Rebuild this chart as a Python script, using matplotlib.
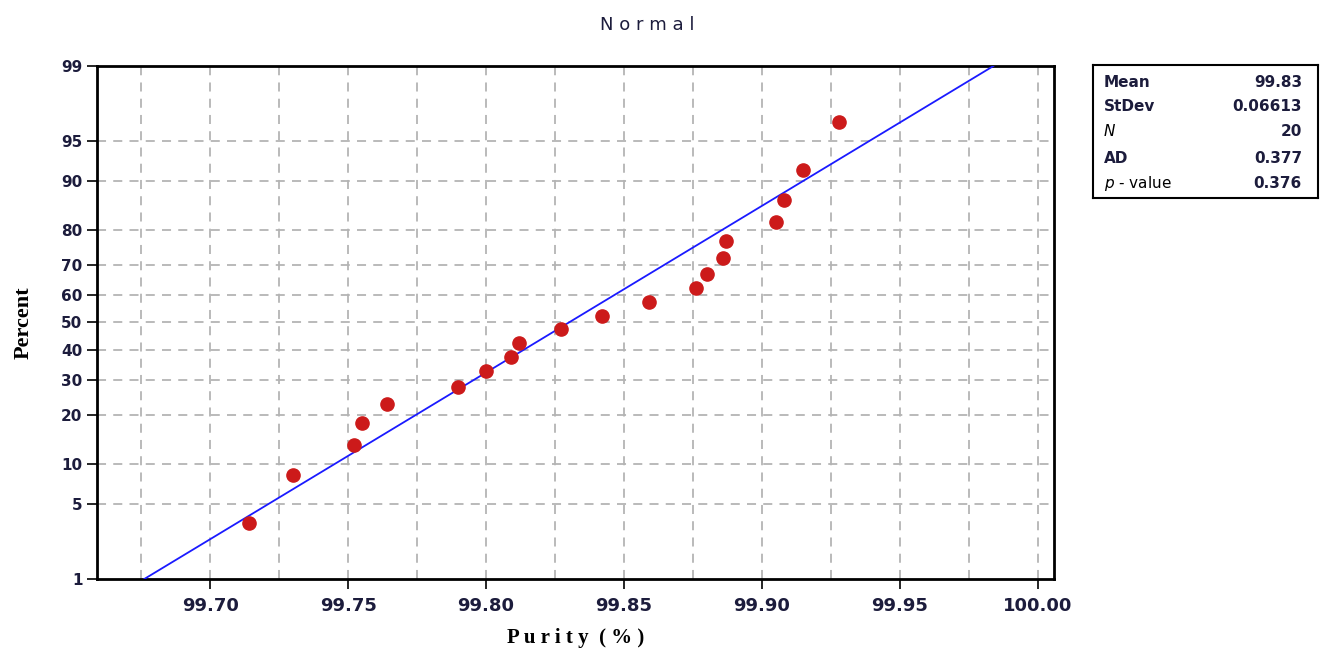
import numpy as np
import matplotlib
matplotlib.use("Agg")
import matplotlib.pyplot as plt
from statistics import NormalDist

# Data
purity = [99.714, 99.730, 99.752, 99.755, 99.764, 99.790, 99.800, 99.809, 99.812, 99.827,
          99.842, 99.859, 99.876, 99.880, 99.886, 99.887, 99.905, 99.908, 99.915, 99.928]
stat_labels = ["Mean", "StDev", "N", "AD", "p - value"]
stat_values = ["99.83", "0.06613", "20", "0.377", "0.376"]
mean_val = 99.83
sd_val = 0.06613
y_ticks = [1, 5, 10, 20, 30, 40, 50, 60, 70, 80, 90, 95, 99]
x_ticks = [99.70, 99.75, 99.80, 99.85, 99.90, 99.95, 100.00]
x_grid = [99.675, 99.70, 99.725, 99.75, 99.775, 99.80, 99.825, 99.85, 99.875, 99.90,
          99.925, 99.95, 99.975, 100.00]

nd = NormalDist()

def _ppf(q):
    if not np.isfinite(q):
        return np.nan
    q = min(max(q, 1e-9), 1 - 1e-9)
    return nd.inv_cdf(q)

def _cdf(z):
    if not np.isfinite(z):
        return np.nan
    return nd.cdf(z)

_vppf = np.vectorize(_ppf, otypes=[float])
_vcdf = np.vectorize(_cdf, otypes=[float])

def fwd(p):
    return _vppf(np.asarray(p, dtype=float) / 100.0)

def inv(z):
    return _vcdf(np.asarray(z, dtype=float)) * 100.0

n = len(purity)
xs = np.sort(np.array(purity))
pct = [(i - 0.3) / (n + 0.4) * 100 for i in range(1, n + 1)]

fig = plt.figure(figsize=(13.23, 6.49), dpi=100)
ax = fig.add_axes([0.0733, 0.1079, 0.7234, 0.7904])
ax.set_yscale('function', functions=(fwd, inv))

# fitted line
pl = np.array([1.0, 99.0])
xl = [mean_val + sd_val * nd.inv_cdf(p / 100) for p in pl]
ax.plot(xl, pl, color='#1a1aff', lw=1.3, zorder=3)
ax.plot(xs, pct, 'o', color='#cc1a1a', ms=9.5, mec='#cc1a1a', zorder=4)

ax.set_xlim(99.659, 100.0058)
ax.set_ylim(1, 99)
ax.set_yticks(y_ticks)
ax.set_yticklabels([str(t) for t in y_ticks])
ax.set_xticks(x_ticks)
ax.set_xticklabels([f"{t:.2f}" for t in x_ticks])
ax.minorticks_off()
for g in x_grid:
    ax.axvline(g, color='#b4b4b4', ls=(0, (5, 4)), lw=1.3, zorder=1)
for t in y_ticks[1:-1]:
    ax.axhline(t, color='#b4b4b4', ls=(0, (5, 4)), lw=1.3, zorder=1)

for s in ax.spines.values():
    s.set_linewidth(2)
    s.set_color('black')
ax.tick_params(axis='both', direction='out', length=7, width=1.2, colors='black')
ax.tick_params(axis='x', pad=6)
for lab in ax.get_xticklabels():
    lab.set_fontsize(13)
    lab.set_color('#1c1c3c')
    lab.set_fontweight('bold')
for lab in ax.get_yticklabels():
    lab.set_fontsize(11)
    lab.set_color('#1c1c3c')
    lab.set_fontweight('bold')

ax.set_xlabel("P u r i t y  ( % )", fontsize=15, fontweight='bold', family='Liberation Serif', labelpad=9)
ax.set_ylabel("Percent", fontsize=16, fontweight='bold', family='Liberation Serif', labelpad=20)
fig.text(0.489, 0.962, "N o r m a l", ha='center', va='center', fontsize=13, color='#1c1c3c')

# stats box
bx = fig.add_axes([0.826, 0.695, 0.170, 0.205])
bx.set_xticks([]); bx.set_yticks([])
bx.set_xlim(0, 1); bx.set_ylim(0, 1)
for s in bx.spines.values():
    s.set_linewidth(1.5)
rows_y = [0.87, 0.69, 0.50, 0.30, 0.11]
for lbl, val, yy in zip(stat_labels, stat_values, rows_y):
    if lbl == "N":
        bx.text(0.05, yy, "N", style='italic', fontsize=11, va='center', color='black')
    elif lbl.startswith("p"):
        bx.text(0.05, yy, "$p$ - value", fontsize=11, va='center', color='black')
    else:
        bx.text(0.05, yy, lbl, fontsize=11, fontweight='bold', va='center', color='#1c1c3c')
    bx.text(0.93, yy, val, fontsize=11, fontweight='bold', va='center', ha='right', color='#1c1c3c')

fig.savefig("out.png", dpi=100)
